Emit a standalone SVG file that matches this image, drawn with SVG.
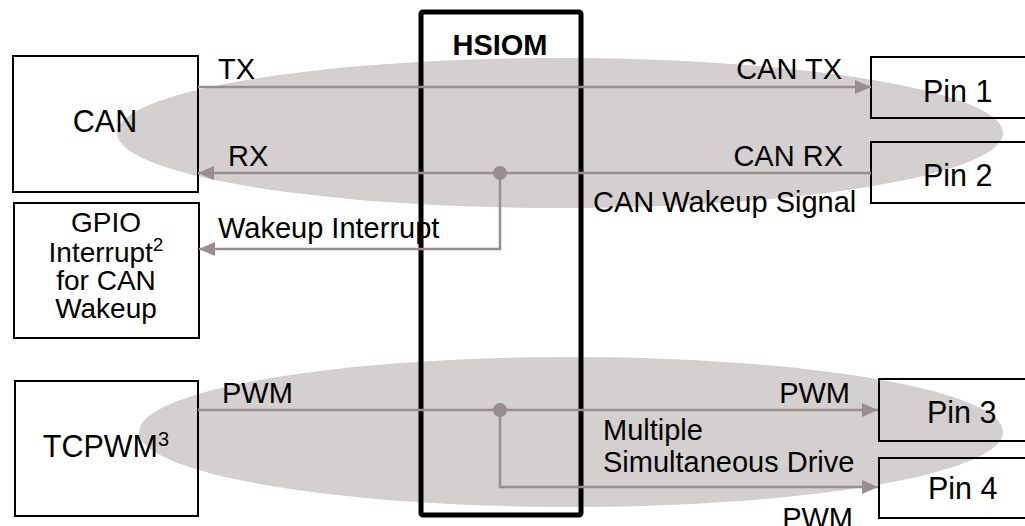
<svg xmlns="http://www.w3.org/2000/svg" width="1025" height="526" viewBox="0 0 1025 526">
<style>
.bg{fill:#d5d0d0}
.box{fill:none;stroke:#000;stroke-width:2}
.t{font-family:"Liberation Sans",Arial,sans-serif;font-size:29px;fill:#000}
.b{font-size:30.5px}
.g{font-size:28px}
.m{text-anchor:middle}
.e{text-anchor:end}
.c{fill:none;stroke:#9b8c8f;stroke-width:2.5}
.dot{fill:#9b8c8f}
</style>
<defs>
<marker id="ah" markerUnits="userSpaceOnUse" markerWidth="16" markerHeight="14" refX="16" refY="7" orient="auto">
<path d="M0,0 L16,7 L0,14 z" fill="#9b8c8f"/>
</marker>
</defs>
<rect width="1025" height="526" fill="#fff"/>
<g id="groups">
<ellipse class="bg" cx="560" cy="133" rx="443" ry="75"/>
<ellipse class="bg" cx="571" cy="432" rx="432" ry="75"/>
</g>
<g id="can">
<rect class="box" x="13" y="56" width="185" height="136"/>
<text class="t b m" x="105" y="132">CAN</text>
</g>
<g id="gpio">
<rect class="box" x="14" y="203" width="185" height="135"/>
<text class="t g m" x="106" y="232">GPIO</text>
<text class="t g m" x="106" y="262">Interrupt<tspan font-size="19" dy="-11">2</tspan></text>
<text class="t g m" x="106" y="290">for CAN</text>
<text class="t g m" x="106" y="318">Wakeup</text>
</g>
<g id="tcpwm">
<rect class="box" x="15" y="381" width="183" height="135"/>
<text class="t b m" x="106" y="457">TCPWM<tspan font-size="20" dy="-11">3</tspan></text>
</g>
<g id="pin1">
<rect class="box" x="871" y="57" width="160" height="61"/>
<text class="t b" x="923" y="102">Pin 1</text>
</g>
<g id="pin2">
<rect class="box" x="871" y="142" width="160" height="61"/>
<text class="t b" x="923" y="186">Pin 2</text>
</g>
<g id="pin3">
<rect class="box" x="879" y="379" width="160" height="62"/>
<text class="t b" x="927" y="423">Pin 3</text>
</g>
<g id="pin4">
<rect class="box" x="879" y="458" width="160" height="60"/>
<text class="t b" x="928" y="499">Pin 4</text>
</g>
<g id="labels">
<text class="t" x="218" y="79">TX</text>
<text class="t e" x="842" y="79">CAN TX</text>
<text class="t" x="228" y="166">RX</text>
<text class="t e" x="843" y="166">CAN RX</text>
<text class="t" x="593" y="212">CAN Wakeup Signal</text>
<text class="t" x="218" y="238">Wakeup Interrupt</text>
<text class="t" x="222" y="403">PWM</text>
<text class="t e" x="850" y="403">PWM</text>
<text class="t" x="603" y="440">Multiple</text>
<text class="t" x="603" y="472">Simultaneous Drive</text>
<text class="t e" x="853" y="528">PWM</text>
</g>
<g id="hsiom">
<rect x="421" y="12" width="160" height="503" rx="2" fill="none" stroke="#000" stroke-width="5"/>
<text class="t m" x="500" y="55" font-size="32" font-weight="bold">HSIOM</text>
</g>
<g id="connectors">
<line class="c" x1="198" y1="87" x2="871" y2="87" marker-end="url(#ah)"/>
<line class="c" x1="871" y1="173" x2="198" y2="173" marker-end="url(#ah)"/>
<polyline class="c" points="500,173 500,249 199,249" marker-end="url(#ah)"/>
<circle class="dot" cx="500" cy="173" r="7"/>
<line class="c" x1="198" y1="410" x2="878" y2="410" marker-end="url(#ah)"/>
<polyline class="c" points="500,410 500,487 878,487" marker-end="url(#ah)"/>
<circle class="dot" cx="500" cy="410" r="7"/>
</g>
</svg>
